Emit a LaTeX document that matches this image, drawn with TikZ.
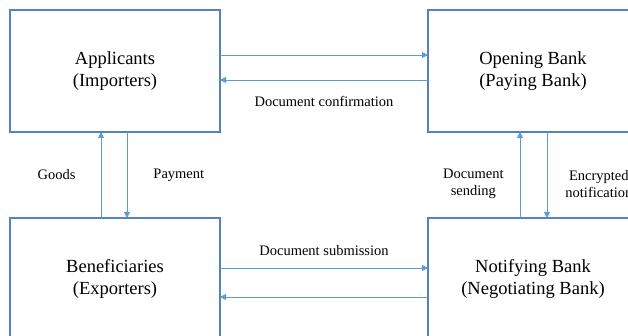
\documentclass[tikz,border=0pt]{standalone}
\usepackage{fontspec}
\setmainfont{Liberation Serif}
\usetikzlibrary{positioning,arrows.meta}
\definecolor{boxblue}{RGB}{84,130,190}
\definecolor{arrowblue}{RGB}{91,155,213}

\begin{document}
\begin{tikzpicture}
[x=1pt,y=-1pt,
 party/.style={draw=boxblue,line width=1.3pt,minimum width=210pt,minimum height=122pt,
   inner sep=0pt,outer sep=0pt,align=center,font=\fontsize{18.5}{22.5}\selectfont},
 flow/.style={draw=arrowblue,line width=0.9pt,-{Triangle[length=6pt,width=6pt]}},
 lbl/.style={inner sep=0pt,align=center,font=\fontsize{14.5}{17}\selectfont}]
\useasboundingbox (0,0) rectangle (628,336);
\node[party] (app) at (115,71)                 {Applicants\\(Importers)};
\node[party] (open) [right=208pt of app]        {Opening Bank\\(Paying Bank)};
\node[party] (ben)  [below=86pt of app]         {Beneficiaries\\(Exporters)};
\node[party] (noti) [below=86pt of open]        {Notifying Bank\\(Negotiating Bank)};
% top pair
\draw[flow] ([yshift=16pt]app.east) -- ([yshift=16pt]open.west);
\draw[flow] ([yshift=-9pt]open.west) -- ([yshift=-9pt]app.east)
  node[lbl,midway,below=16pt] {Document confirmation};
% left pair
\draw[flow] ([xshift=-14pt]ben.north) -- ([xshift=-14pt]app.south)
  node[lbl,midway,left=25pt] {Goods};
\draw[flow] ([xshift=12pt]app.south) -- ([xshift=12pt]ben.north)
  node[lbl,midway,right=26pt] {Payment};
% right pair
\draw[flow] ([xshift=-13pt]noti.north) -- ([xshift=-13pt]open.south)
  node[lbl,pos=0.4,left=16pt] {Document\\sending};
\draw[flow] ([xshift=14pt]open.south) -- ([xshift=14pt]noti.north)
  node[lbl,pos=0.6,right=18pt] {Encrypted\\notification};
% bottom pair
\draw[flow] ([yshift=11pt]ben.east) -- ([yshift=11pt]noti.west)
  node[lbl,midway,above=12pt] {Document submission};
\draw[flow] ([yshift=-18pt]noti.west) -- ([yshift=-18pt]ben.east);
\end{tikzpicture}
\end{document}
